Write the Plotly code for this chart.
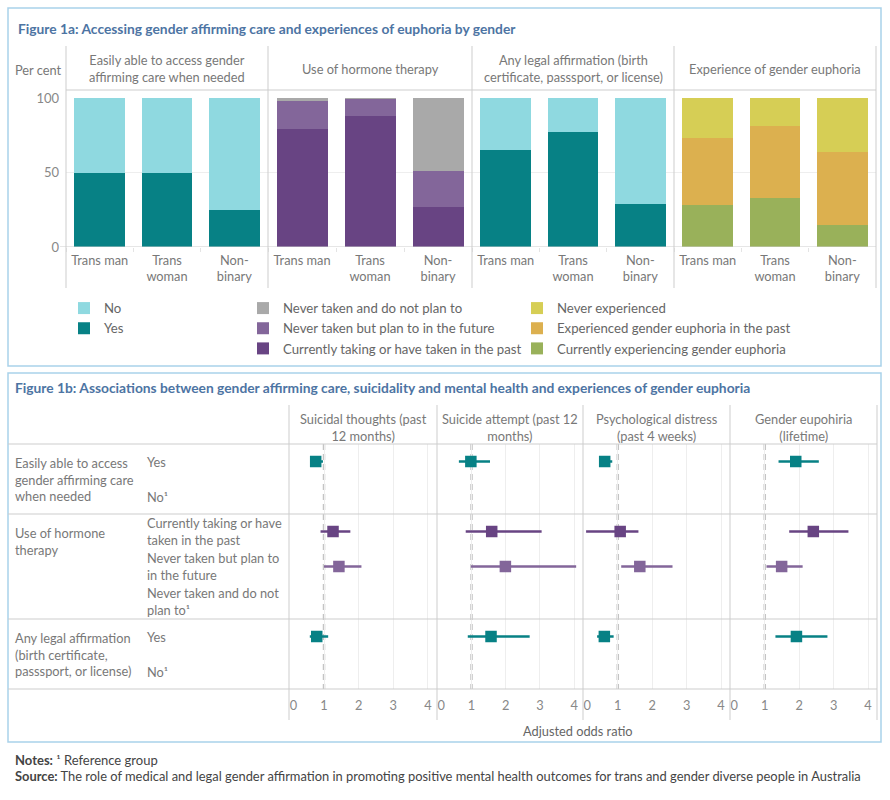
import plotly.graph_objects as go

W, H = 890, 800
def px(x): return x / W
def py(y): return 1 - y / H

FONT = "Lato"
TXT = "#787878"
LINE = "#cdcdcd"
GRID = "#eeeeee"

# ---------------- Figure 1a data ----------------
genders = ["Trans man", "Trans woman", "Non-binary"]
gender_ticks = ["Trans man", "Trans<br>woman", "Non-<br>binary"]
panel_titles_a = ["Easily able to access gender<br>affirming care when needed",
                  "Use of hormone therapy",
                  "Any legal affirmation (birth<br>certificate, passsport, or license)",
                  "Experience of gender euphoria"]

access_yes = [50, 50, 25]
access_no = [50, 50, 75]
hormone_current = [79, 88, 27]
hormone_plan = [19, 11.5, 24]
hormone_never = [2, 0.5, 49]
legal_yes = [65, 77, 29]
legal_no = [35, 23, 71]
euph_current = [28, 33, 15]
euph_past = [45, 48, 49]
euph_never = [27, 19, 36]

C_NO = "#8fd9e0"
C_YES = "#078185"
C_NEVER = "#a9a9a9"
C_PLAN = "#83669a"
C_CURR = "#684483"
C_NEXP = "#d6ce55"
C_PAST = "#dcb04f"
C_CEXP = "#99b15a"

# ---------------- Figure 1b data ----------------
measures = ["Suicidal thoughts (past<br>12 months)", "Suicide attempt (past 12<br>months)",
            "Psychological distress<br>(past 4 weeks)", "Gender eupohiria<br>(lifetime)"]
row_keys = ["access_yes", "access_no", "hrt_current", "hrt_plan", "hrt_never", "legal_yes", "legal_no"]
row_labels = ["Yes", "No¹", "Currently taking or have<br>taken in the past",
              "Never taken but plan to<br>in the future", "Never taken and do not<br>plan to¹", "Yes", "No¹"]
group_labels = ["Easily able to access<br>gender affirming care<br>when needed",
                "Use of hormone<br>therapy",
                "Any legal affirmation<br>(birth certificate,<br>passsport, or license)"]
group_first_row = ["access_yes", "hrt_current", "legal_yes"]
or_ticks = [0, 1, 2, 3, 4]

or_access = [0.76, 0.98, 0.62, 1.90]
lo_access = [0.60, 0.63, 0.50, 1.40]
hi_access = [0.97, 1.54, 0.84, 2.57]
or_current = [1.26, 1.59, 1.07, 2.41]
lo_current = [0.90, 0.83, 0.08, 1.71]
hi_current = [1.76, 3.05, 1.60, 3.43]
or_plan = [1.43, 1.99, 1.64, 1.49]
lo_plan = [1.00, 0.98, 1.10, 1.05]
hi_plan = [2.08, 4.06, 2.59, 2.10]
or_legal = [0.79, 1.57, 0.61, 1.92]
lo_legal = [0.59, 0.89, 0.40, 1.31]
hi_legal = [1.12, 2.70, 0.88, 2.82]

fig = go.Figure()

# ---------- 1a bars ----------
dom_a = [(66, 268), (268, 472), (472, 674), (674, 876)]
panels_a = [
    [("Yes", access_yes, C_YES, "legend", True), ("No", access_no, C_NO, "legend", True)],
    [("Currently taking or have taken in the past", hormone_current, C_CURR, "legend2", True),
     ("Never taken but plan to in the future", hormone_plan, C_PLAN, "legend2", True),
     ("Never taken and do not plan to", hormone_never, C_NEVER, "legend2", True)],
    [("Yes", legal_yes, C_YES, "legend", False), ("No", legal_no, C_NO, "legend", False)],
    [("Currently experiencing gender euphoria", euph_current, C_CEXP, "legend3", True),
     ("Experienced gender euphoria in the past", euph_past, C_PAST, "legend3", True),
     ("Never experienced", euph_never, C_NEXP, "legend3", True)],
]
for i, segs in enumerate(panels_a):
    xa = "x" if i == 0 else f"x{i+1}"
    for name, vals, col, leg, show in segs:
        fig.add_trace(go.Bar(x=genders, y=vals, name=name, marker=dict(color=col, line=dict(width=0)),
                             xaxis=xa, yaxis="y", legend=leg, legendgroup=name + leg,
                             showlegend=show, hoverinfo="skip"))

# ---------- 1b forest ----------
dom_b = [(289, 437), (437, 583), (583, 730), (730, 877)]
series_b = [("access_yes", or_access, lo_access, hi_access, C_YES),
            ("hrt_current", or_current, lo_current, hi_current, C_CURR),
            ("hrt_plan", or_plan, lo_plan, hi_plan, C_PLAN),
            ("legal_yes", or_legal, lo_legal, hi_legal, C_YES)]
for j in range(4):
    xa = f"x{j+5}"
    for key, orv, lo, hi, col in series_b:
        r = row_keys.index(key)
        fig.add_trace(go.Scatter(
            x=[orv[j]], y=[r], mode="markers", xaxis=xa, yaxis="y2",
            marker=dict(symbol="square", size=11.5, color=col),
            error_x=dict(type="data", symmetric=False, array=[hi[j] - orv[j]],
                         arrayminus=[orv[j] - lo[j]], thickness=2.5, width=0, color=col),
            showlegend=False, hoverinfo="skip", cliponaxis=False))
    # invisible helper so the overlay axis carrying the "0" label is drawn
    fig.add_trace(go.Scatter(x=or_ticks[:1], y=[row_keys.index("access_no")], mode="markers",
                             marker=dict(opacity=0, size=1), xaxis=f"x{j+9}", yaxis="y2",
                             showlegend=False, hoverinfo="skip"))

OR_RANGE = [-0.01, 4.26]
lay = dict(
    width=W, height=H, margin=dict(l=0, r=0, t=0, b=0, autoexpand=False),
    paper_bgcolor="white", plot_bgcolor="rgba(0,0,0,0)",
    font=dict(family=FONT, size=12.5, color=TXT),
    barmode="stack", bargap=0.25,
    yaxis=dict(domain=[py(247), py(98)], range=[0, 100], tickvals=[0, 50, 100],
               showgrid=True, gridcolor=GRID, zeroline=False, showline=False, automargin=False,
               ticks="", anchor="x", tickfont=dict(size=13, color="#888"), ticklabelstandoff=6),
    yaxis2=dict(domain=[py(689), py(444)], range=[6.5, -0.5], showgrid=False, zeroline=False,
                showticklabels=False, ticks="", anchor="x5", automargin=False),
)
for i, (a, b) in enumerate(dom_a):
    key = "xaxis" if i == 0 else f"xaxis{i+1}"
    lay[key] = dict(domain=[px(a), px(b)], type="category", categoryorder="array",
                    categoryarray=genders, tickvals=genders, ticktext=gender_ticks,
                    anchor="y", showgrid=False, zeroline=False, showline=False, automargin=False,
                    ticks="outside", tickson="boundaries", ticklen=4, tickcolor="#e4e4e4",
                    ticklabelstandoff=4, tickfont=dict(size=12.8, color=TXT))
for j, (a, b) in enumerate(dom_b):
    # main odds-ratio axis (ticks 1..4 labelled, grid at every tick)
    lay[f"xaxis{j+5}"] = dict(domain=[px(a), px(b)], range=OR_RANGE,
                             tickvals=or_ticks, ticktext=[""] + [str(t) for t in or_ticks[1:]],
                             anchor="y2", showgrid=True, gridcolor=GRID, zeroline=False,
                             showline=False, ticks="", tickfont=dict(size=12.8, color="#888"),
                             ticklabelstandoff=7, automargin=False)
    # overlay axis carrying only the "0" label, nudged inside the panel
    lay[f"xaxis{j+9}"] = dict(domain=[px(a), px(b)], range=OR_RANGE, overlaying=f"x{j+5}",
                             tickvals=or_ticks[:1], ticktext=[str(or_ticks[0])],
                             anchor="y2", showgrid=False, zeroline=False, showline=False,
                             ticks="", tickfont=dict(size=12.8, color="#888"),
                             ticklabelstandoff=7, ticklabelshift=4, automargin=False)

legend_common = dict(orientation="v", traceorder="reversed", xanchor="left", yanchor="top",
                     bgcolor="rgba(0,0,0,0)", font=dict(size=13.2, color="#666", family=FONT),
                     itemclick=False, itemdoubleclick=False, tracegroupgap=0)
lay["legend"] = dict(x=px(64), y=py(293), **legend_common)
lay["legend2"] = dict(x=px(243), y=py(293), **legend_common)
lay["legend3"] = dict(x=px(517), y=py(293), **legend_common)

shapes = []
# outer boxes
for (y0, y1) in [(8, 366), (373, 742)]:
    shapes.append(dict(type="rect", xref="paper", yref="paper", x0=px(8), x1=px(881),
                       y0=py(y1), y1=py(y0), line=dict(color="#a9d2ea", width=1.5)))
# 1a separators
for edge in [66, 268, 472, 674, 876]:
    shapes.append(dict(type="line", xref="paper", yref="paper", x0=px(edge), x1=px(edge),
                       y0=py(288), y1=py(46), line=dict(color=LINE, width=1)))
shapes.append(dict(type="line", xref="paper", yref="paper", x0=px(66), x1=px(876),
                   y0=py(90), y1=py(90), line=dict(color=LINE, width=1)))
shapes.append(dict(type="line", xref="paper", yref="y", x0=px(60), x1=px(876),
                   y0=0, y1=0, line=dict(color=LINE, width=1)))
# 1b separators
for edge in [289, 437, 583, 730, 877]:
    shapes.append(dict(type="line", xref="paper", yref="paper", x0=px(edge), x1=px(edge),
                       y0=py(720), y1=py(405), line=dict(color=LINE, width=1)))
for yy in [444, 689]:
    shapes.append(dict(type="line", xref="paper", yref="paper", x0=px(8), x1=px(877),
                       y0=py(yy), y1=py(yy), line=dict(color=LINE, width=1)))
for yb in [1.5, 4.5]:
    shapes.append(dict(type="line", xref="paper", yref="y2", x0=px(8), x1=px(877),
                       y0=yb, y1=yb, line=dict(color=LINE, width=1)))
# reference line at OR = 1
for j in range(4):
    shapes.append(dict(type="line", xref=f"x{j+5}", yref="y2", x0=1, x1=1, y0=-0.5, y1=6.5,
                       line=dict(color="#c4c4c4", width=2.5, dash="6px,4px"), layer="below"))
lay["shapes"] = shapes

ann = []
ann.append(dict(text="<b>Figure 1a: Accessing gender affirming care and experiences of euphoria by gender</b>",
                xref="paper", yref="paper", x=px(16), y=py(28), xanchor="left", yanchor="middle",
                showarrow=False, font=dict(size=13.8, color="#4d74a3")))
ann.append(dict(text="<b>Figure 1b: Associations between gender affirming care, suicidality and mental health and experiences of gender euphoria</b>",
                xref="paper", yref="paper", x=px(13), y=py(387), xanchor="left", yanchor="middle",
                showarrow=False, font=dict(size=13.8, color="#4d74a3")))
ann.append(dict(text="Per cent", xref="paper", yref="paper", x=px(13), y=py(70), xanchor="left",
                yanchor="middle", showarrow=False, font=dict(size=12.8, color=TXT)))
for i, t in enumerate(panel_titles_a):
    xa = "x" if i == 0 else f"x{i+1}"
    ann.append(dict(text=t, xref=f"{xa} domain", yref="paper", x=0.5, y=py(68.5),
                    xanchor="center", yanchor="middle", showarrow=False, align="center",
                    font=dict(size=12.8, color=TXT)))
for j, t in enumerate(measures):
    ann.append(dict(text=t, xref=f"x{j+5} domain", yref="paper", x=0.5, y=py(427.5),
                    xanchor="center", yanchor="middle", showarrow=False, align="center",
                    font=dict(size=12.8, color=TXT)))
for r, t in enumerate(row_labels):
    ann.append(dict(text=t, xref="paper", yref="y2", x=px(145), y=r, xanchor="left",
                    yanchor="middle", showarrow=False, align="left", font=dict(size=12.8, color=TXT)))
for g, t in enumerate(group_labels):
    r = row_keys.index(group_first_row[g])
    ann.append(dict(text=t, xref="paper", yref="y2", x=px(13), y=r - 0.5 + 0.25, xanchor="left",
                    yanchor="top", showarrow=False, align="left", font=dict(size=12.8, color=TXT)))
ann.append(dict(text="Adjusted odds ratio", xref="paper", yref="paper", x=px(578), y=py(731),
                xanchor="center", yanchor="middle", showarrow=False, font=dict(size=12.8, color="#666")))
ann.append(dict(text="<b>Notes:</b> ¹ Reference group", xref="paper", yref="paper", x=px(13), y=py(760),
                xanchor="left", yanchor="middle", showarrow=False, font=dict(size=13, color="#444")))
ann.append(dict(text="<b>Source:</b> The role of medical and legal gender affirmation in promoting positive mental health outcomes for trans and gender diverse people in Australia",
                xref="paper", yref="paper", x=px(13), y=py(776), xanchor="left", yanchor="middle",
                showarrow=False, font=dict(size=12.9, color="#444")))
lay["annotations"] = ann

fig.update_layout(**lay)
fig.write_html("out.html")
